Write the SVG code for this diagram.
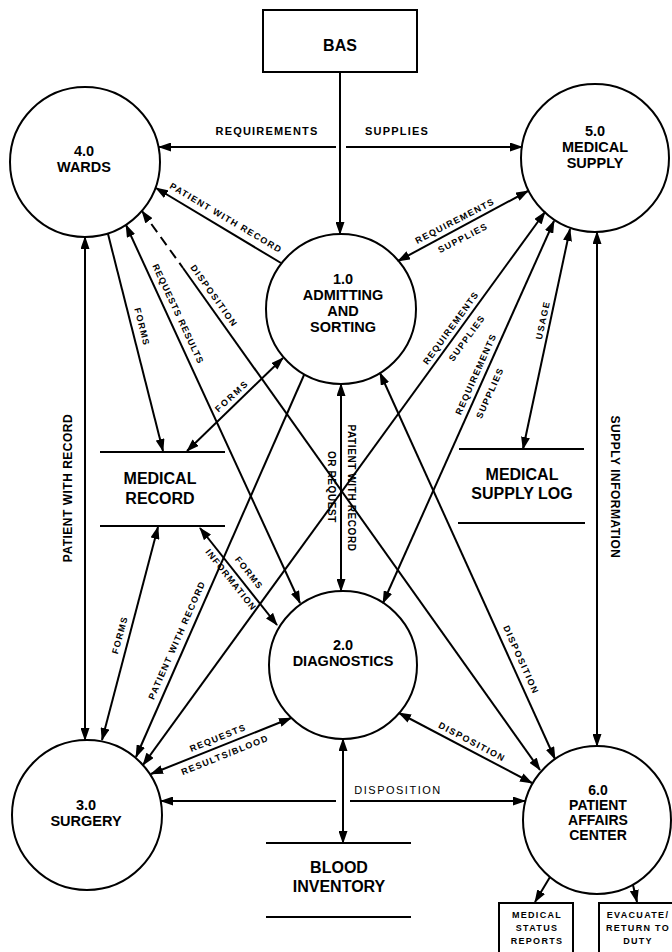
<svg xmlns="http://www.w3.org/2000/svg" width="672" height="952" viewBox="0 0 672 952">
<defs>
<marker id="ah" viewBox="0 0 13 9" refX="12" refY="4.5" markerWidth="13" markerHeight="9" markerUnits="userSpaceOnUse" orient="auto-start-reverse"><path d="M0,0 L13,4.5 L0,9 z" fill="#000"/></marker>
</defs>
<style>
.n{fill:#fff;stroke:#000;stroke-width:2}
.st{stroke:#000;stroke-width:2}
.c{fill:none;stroke:#000;stroke-width:2}
.e{marker-end:url(#ah)}
.b{marker-start:url(#ah);marker-end:url(#ah)}
.d{stroke-dasharray:10,6}
text{font-family:"Liberation Sans","DejaVu Sans",Arial,sans-serif;font-weight:bold;fill:#000}
.t{font-size:14.5px;text-anchor:middle}
.p{font-size:14px;text-anchor:middle}
.s{font-size:16px;text-anchor:middle}
.l{font-size:9px;text-anchor:middle;letter-spacing:1.3px;dominant-baseline:central}
.m{font-size:11px;text-anchor:middle;letter-spacing:1.2px;dominant-baseline:central}
.v{font-size:12px;text-anchor:middle;letter-spacing:0.5px;dominant-baseline:central}
.x{font-size:9px;text-anchor:middle;letter-spacing:1.3px}
</style>
<rect width="672" height="952" fill="#fff"/>

<g id="bas"><rect x="263" y="10" width="154" height="62" class="n"/><text x="340" y="51" class="s">BAS</text></g>
<g id="wards"><circle cx="85" cy="162" r="75" class="n"/><text class="t"><tspan x="84" y="156">4.0</tspan><tspan x="84" y="172">WARDS</tspan></text></g>
<g id="medical-supply"><circle cx="595" cy="158" r="74" class="n"/><text class="t"><tspan x="595" y="136">5.0</tspan><tspan x="595" y="152">MEDICAL</tspan><tspan x="595" y="168">SUPPLY</tspan></text></g>
<g id="admitting"><circle cx="341" cy="309" r="75" class="n"/><text class="t"><tspan x="343" y="284">1.0</tspan><tspan x="343" y="300">ADMITTING</tspan><tspan x="343" y="316">AND</tspan><tspan x="343" y="332">SORTING</tspan></text></g>
<g id="diagnostics"><circle cx="343" cy="665" r="74" class="n"/><text class="t"><tspan x="343" y="650">2.0</tspan><tspan x="343" y="666">DIAGNOSTICS</tspan></text></g>
<g id="surgery"><circle cx="87" cy="815" r="75" class="n"/><text class="t"><tspan x="86" y="810">3.0</tspan><tspan x="86" y="826">SURGERY</tspan></text></g>
<g id="patient-affairs"><circle cx="597" cy="820" r="74" class="n"/><text class="p"><tspan x="598" y="795">6.0</tspan><tspan x="598" y="810">PATIENT</tspan><tspan x="598" y="825">AFFAIRS</tspan><tspan x="598" y="840">CENTER</tspan></text></g>
<g id="medical-record"><line x1="100" y1="452" x2="225" y2="452" class="st"/><line x1="100" y1="526" x2="225" y2="526" class="st"/><text class="s"><tspan x="160" y="484">MEDICAL</tspan><tspan x="160" y="504">RECORD</tspan></text></g>
<g id="medical-supply-log"><line x1="459" y1="449" x2="584" y2="449" class="st"/><line x1="458" y1="523" x2="585" y2="523" class="st"/><text class="s"><tspan x="522" y="480">MEDICAL</tspan><tspan x="522" y="499">SUPPLY LOG</tspan></text></g>
<g id="blood-inventory"><line x1="266" y1="843" x2="411" y2="843" class="st"/><line x1="266" y1="917" x2="411" y2="917" class="st"/><text class="s"><tspan x="339" y="873">BLOOD</tspan><tspan x="339" y="892">INVENTORY</tspan></text></g>
<g id="medical-status-reports"><rect x="499" y="903" width="74" height="60" class="n"/><text class="x"><tspan x="537" y="918">MEDICAL</tspan><tspan x="537" y="931">STATUS</tspan><tspan x="537" y="944">REPORTS</tspan></text></g>
<g id="evacuate"><rect x="599" y="903" width="80" height="60" class="n"/><text class="x"><tspan x="638" y="918">EVACUATE/</tspan><tspan x="638" y="931">RETURN TO</tspan><tspan x="638" y="944">DUTY</tspan></text></g>

<g id="connectors">
<path class="c e" d="M340,72 L340,234"/>
<path class="c e" d="M336,147 L159,147"/>
<path class="c e" d="M346,147 L522,147"/>
<path class="c e" d="M281,263 L156,188"/>
<path class="c e" d="M108,234 L163,451"/>
<path class="c b" d="M85,237 L85,740"/>
<path class="c b" d="M126,225 L300,603"/>
<path class="c d" d="M142,211 L183,268" style="marker-start:url(#ah)"/>
<path class="c e" d="M183,268 L540,770"/>
<path class="c b" d="M398,261 L528,191"/>
<path class="c b" d="M545,212 L143,765"/>
<path class="c b" d="M554,221 L383,603"/>
<path class="c b" d="M570,229 L523,449"/>
<path class="c b" d="M597,232 L597,746"/>
<path class="c b" d="M283,358 L187,451"/>
<path class="c b" d="M341,384 L341,591"/>
<path class="c e" d="M304,375 L136,757"/>
<path class="c b" d="M380,373 L555,759"/>
<path class="c b" d="M200,528 L277,625"/>
<path class="c b" d="M158,527 L102,740"/>
<path class="c b" d="M291,718 L151,774"/>
<path class="c b" d="M399,713 L532,783"/>
<path class="c e" d="M336,801 L161,801"/>
<path class="c e" d="M350,801 L525,801"/>
<path class="c b" d="M343,739 L343,843"/>
<path class="c e" d="M550,877 L535,902"/>
<path class="c e" d="M633,885 L637,902"/>

<text class="m" x="267" y="131">REQUIREMENTS</text>
<text class="m" x="397" y="131">SUPPLIES</text>
<text class="l" transform="translate(226,218) rotate(30.6)">PATIENT WITH RECORD</text>
<text class="l" transform="translate(142,327) rotate(75.7)">FORMS</text>
<text class="v" transform="translate(68,488) rotate(-90)">PATIENT WITH RECORD</text>
<text class="l" transform="translate(178,314) rotate(65)" style="letter-spacing:1px">REQUESTS RESULTS</text>
<text class="l" transform="translate(214,296) rotate(54.5)" style="letter-spacing:1.5px">DISPOSITION</text>
<text class="l" transform="translate(455,221) rotate(-27.4)">REQUIREMENTS</text>
<text class="l" transform="translate(463,238) rotate(-27.4)">SUPPLIES</text>
<text class="l" transform="translate(451,328) rotate(-53.9)">REQUIREMENTS</text>
<text class="l" transform="translate(467,338) rotate(-53.9)">SUPPLIES</text>
<text class="l" transform="translate(476,374) rotate(-65.9)">REQUIREMENTS</text>
<text class="l" transform="translate(490,393) rotate(-65.9)">SUPPLIES</text>
<text class="l" transform="translate(543,320) rotate(-78)" style="letter-spacing:1.5px">USAGE</text>
<text class="v" transform="translate(615,487) rotate(90)">SUPPLY INFORMATION</text>
<text class="l" transform="translate(232,396) rotate(-42.8)" style="letter-spacing:2px">FORMS</text>
<text class="l" transform="translate(351,488) rotate(90)" style="font-size:10px;letter-spacing:0.6px">PATIENT WITH RECORD</text>
<text class="l" transform="translate(331,487) rotate(90)" style="font-size:10px;letter-spacing:0.6px">OR REQUEST</text>
<text class="l" transform="translate(177,640) rotate(-66.2)">PATIENT WITH RECORD</text>
<text class="l" transform="translate(249,573) rotate(51.6)">FORMS</text>
<text class="l" transform="translate(231,580) rotate(51.6)" style="letter-spacing:1.2px">INFORMATION</text>
<text class="l" transform="translate(120,635) rotate(-75)">FORMS</text>
<text class="l" transform="translate(218,738) rotate(-21.9)">REQUESTS</text>
<text class="l" transform="translate(225,755) rotate(-21.9)">RESULTS/BLOOD</text>
<text class="l" transform="translate(472,742) rotate(27.9)" style="letter-spacing:1.5px">DISPOSITION</text>
<text class="l" transform="translate(521,660) rotate(65.6)" style="letter-spacing:1.5px">DISPOSITION</text>
<text class="m" x="398" y="790" style="font-weight:normal;letter-spacing:1.5px">DISPOSITION</text>
</g>
</svg>
